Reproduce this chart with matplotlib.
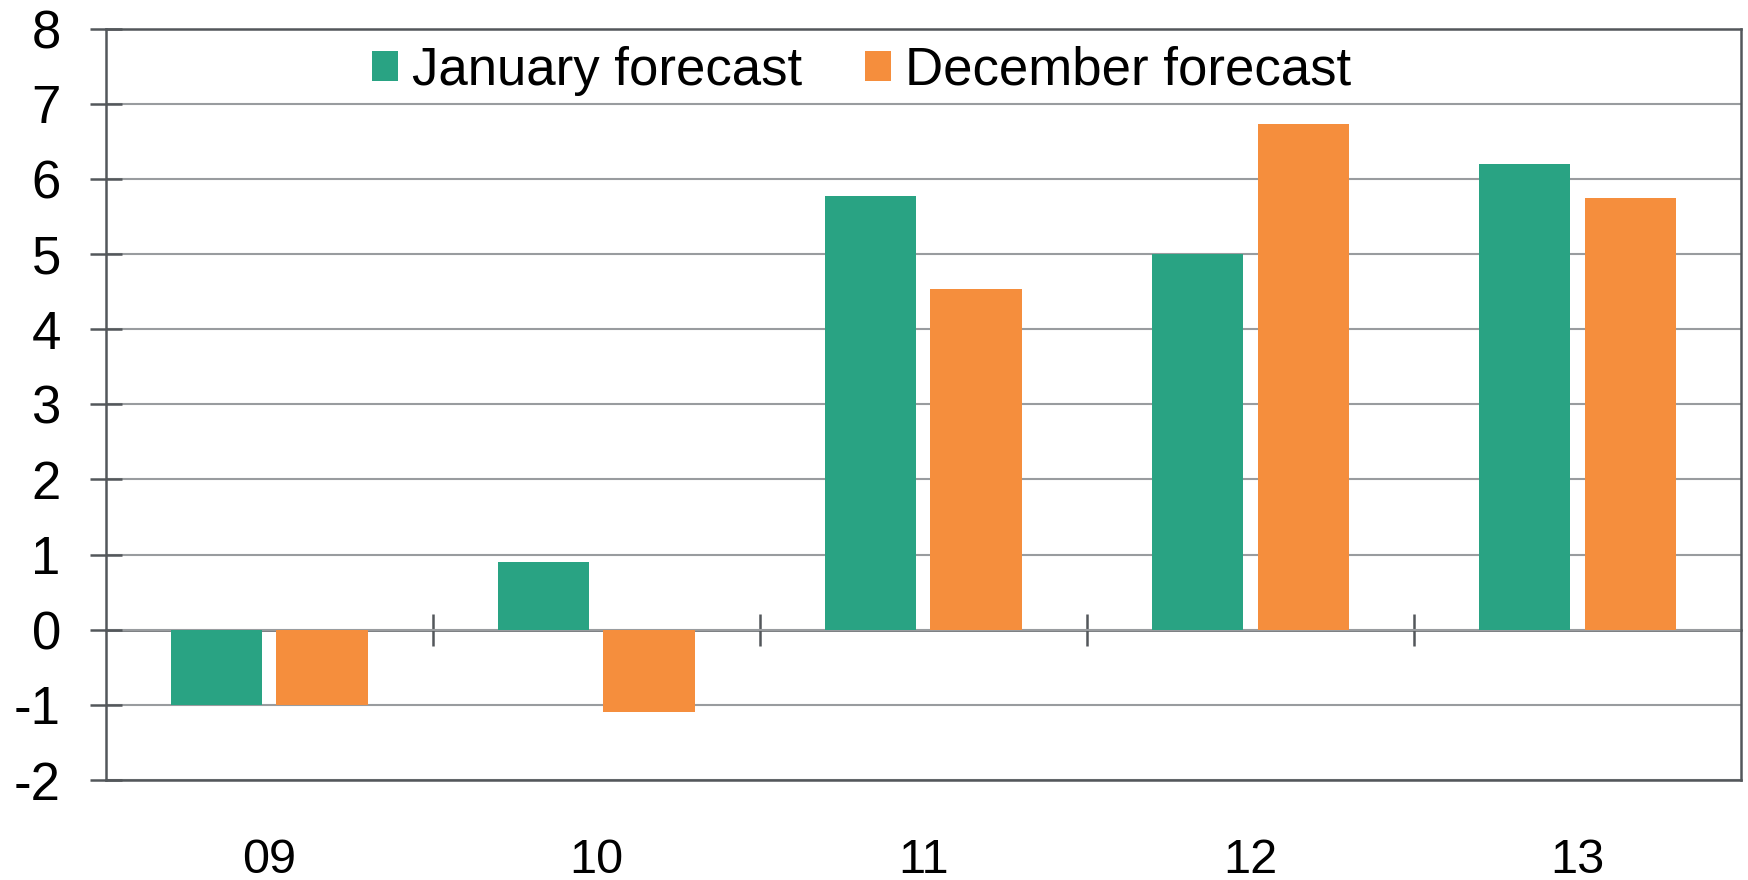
import numpy as np
import matplotlib
matplotlib.use("Agg")
from matplotlib import pyplot as plt

years = ['09', '10', '11', '12', '13']
january = [-1.0, 0.9, 5.77, 5.0, 6.2]
december = [-1.0, -1.1, 4.54, 6.73, 5.75]
y_ticks = [-2, -1, 0, 1, 2, 3, 4, 5, 6, 7, 8]

green = '#29a383'
orange = '#f58e3d'
dark = '#53575b'
light = '#999c9f'

plt.rcParams['font.family'] = ['Liberation Sans', 'DejaVu Sans']
plt.rcParams['axes.unicode_minus'] = False

fig = plt.figure(figsize=(17.48, 8.8), dpi=100)
ax = fig.add_axes([0.0606, 0.1136, 0.9354, 0.854])

x = np.arange(len(years))
w = 0.281
off = 0.162
ax.bar(x - off, january, w, color=green, label='January forecast', zorder=2)
ax.bar(x + off, december, w, color=orange, label='December forecast', zorder=2)

ax.set_xlim(-0.5, len(years) - 0.5)
ax.set_ylim(-2, 8)
ax.set_yticks(y_ticks)
ax.set_yticklabels([str(v) for v in y_ticks])
ax.set_xticks(x)
ax.set_xticklabels(years)

# grid lines
ax.set_axisbelow(True)
ax.yaxis.grid(True, color=light, linewidth=1.5)
ax.xaxis.grid(False)

for s in ax.spines.values():
    s.set_color(dark)
    s.set_linewidth(1.8)

ax.tick_params(axis='y', direction='inout', length=23, width=1.8, color=dark,
               labelsize=38, pad=21)
ax.tick_params(axis='x', length=0, labelsize=35, pad=42)

# zero line with category separator ticks
zero_loc = (0 - ax.get_ylim()[0]) / (ax.get_ylim()[1] - ax.get_ylim()[0])
sec = ax.secondary_xaxis(zero_loc)
sec.spines['bottom'].set_color(dark)
sec.spines['bottom'].set_linewidth(1.8)
sec.set_xticks(x[:-1] + 0.5)
sec.tick_params(axis='x', direction='inout', length=23, width=1.8, color=dark,
                labelbottom=False)

ax.legend(loc='center', bbox_to_anchor=(0.462, 0.944), ncol=2, frameon=False,
          fontsize=38, handlelength=0.5, handleheight=0.5, handletextpad=0.25,
          columnspacing=1.2, borderaxespad=0)

fig.savefig('out.png', dpi=100)
